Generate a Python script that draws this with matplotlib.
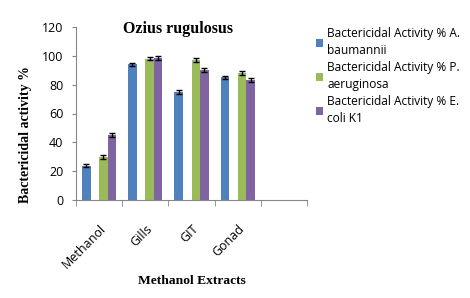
import matplotlib

matplotlib.use("Agg")
import matplotlib.pyplot as plt
import numpy as np

categories = ["Methanol", "Gills", "GIT", "Gonad", ""]
series_names = [
    "Bactericidal Activity % A.\nbaumannii",
    "Bactericidal Activity % P.\naeruginosa",
    "Bactericidal Activity % E.\ncoli K1",
]
a_baumannii = [24, 94, 75, 85, np.nan]
p_aeruginosa = [30, 98, 97, 88, np.nan]
e_coli = [45, 98.5, 90, 83, np.nan]
errors_a = [1.2, 1.2, 1.2, 1.2, np.nan]
errors_p = [1.2, 1.2, 1.2, 1.2, np.nan]
errors_e = [1.2, 1.2, 1.2, 1.2, np.nan]

colors = ["#4F81BD", "#9BBB59", "#8064A2"]
axis_gray = "#868686"
sans = "Open Sans"

fig = plt.figure(figsize=(4.7, 2.98), dpi=100)
ax = fig.add_axes([76 / 470, 1 - 200.3 / 298, (307 - 76) / 470, (200.3 - 26.7) / 298])

x = np.arange(len(categories))
w = 0.185
# second slot left empty, as in the original
offsets = [-1.5 * w, 0.5 * w, 1.5 * w]
data = [a_baumannii, p_aeruginosa, e_coli]
errs = [errors_a, errors_p, errors_e]
for vals, err, off, col, name in zip(data, errs, offsets, colors, series_names):
    ax.bar(x + off, vals, width=w, color=col, label=name,
           yerr=err, error_kw=dict(ecolor="black", elinewidth=1, capsize=2.5, capthick=1))

ax.set_xlim(-0.5, len(categories) - 0.5)
ax.set_ylim(0, 120)
ax.set_yticks(range(0, 121, 20))
ax.tick_params(axis="y", labelsize=9, length=3, color=axis_gray, pad=6)
for lab in ax.get_yticklabels():
    lab.set_fontfamily(sans)
ax.set_xticks(x)
ax.set_xticklabels(categories, rotation=45, ha="right", rotation_mode="anchor",
                   fontsize=9, fontfamily=sans)
ax.set_xticks(np.arange(-0.5, len(categories), 1), minor=True)
ax.tick_params(axis="x", which="major", length=0, pad=16)
ax.tick_params(axis="x", which="minor", length=4, color=axis_gray)

for side in ["top", "right"]:
    ax.spines[side].set_visible(False)
for side in ["left", "bottom"]:
    ax.spines[side].set_color(axis_gray)

serif = {"family": "Liberation Serif", "weight": "bold"}
fig.text(178 / 470, 1 - 29 / 298, "Ozius rugulosus", ha="center", va="center",
         fontdict={**serif, "size": 11.5})
fig.text(26 / 470, 1 - 135 / 298, "Bactericidal activity %", rotation=90,
         ha="center", va="center", fontdict={**serif, "size": 10})
fig.text(192 / 470, 1 - 281 / 298, "Methanol Extracts", ha="center", va="center",
         fontdict={**serif, "size": 9.7})

leg = fig.legend(loc="upper left", bbox_to_anchor=(305 / 470, 1 - 16 / 298), frameon=False,
                 prop={"family": sans, "size": 8.6}, handlelength=0.6, handleheight=0.6,
                 handletextpad=0.35, labelspacing=0.3)
for t in leg.get_texts():
    t.set_linespacing(1.45)

fig.savefig("out.png", dpi=100)
